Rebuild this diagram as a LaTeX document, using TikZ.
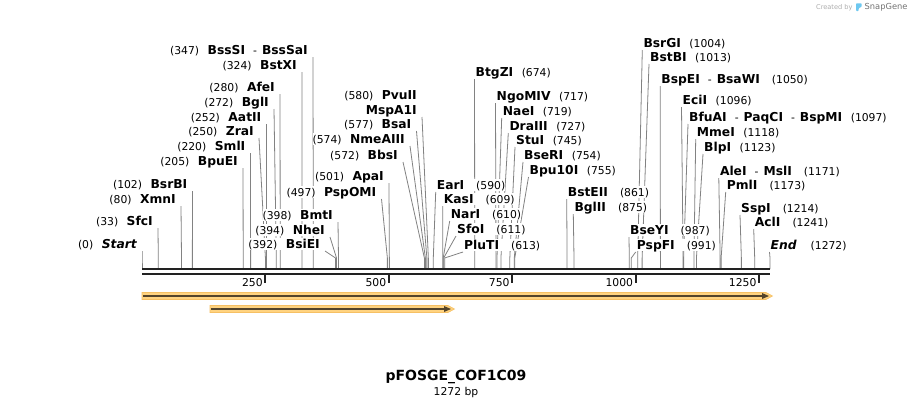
\documentclass[tikz,border=0pt]{standalone}
\usepackage{fontspec}
\setmainfont{DejaVu Sans}[ItalicFont={DejaVu Sans Oblique},BoldFont={DejaVu Sans Bold},BoldItalicFont={DejaVu Sans Bold Oblique}]
\usepackage{tikz}
\usetikzlibrary{calc,backgrounds}

\definecolor{featorange}{RGB}{255,211,128}
\definecolor{featedge}{RGB}{246,192,100}
\definecolor{featline}{RGB}{84,68,42}
\definecolor{siteclr}{RGB}{130,130,130}
\definecolor{barclr}{RGB}{34,34,34}
\definecolor{logoblue}{RGB}{110,200,240}

\newcommand{\bpx}[1]{(142+(#1)*0.493711)}
\newcommand{\sgap}{\hspace{8.5pt}}
\newcommand{\wgap}{\hspace{12pt}}
\newcommand{\nm}[1]{{\fontsize{12.3}{14}\selectfont\bfseries #1}}
\newcommand{\cutL}[5]{%
  \node[sitelbl, anchor=east] (#1) at (#2,#3) {#5};
  \coordinate (#1-cut) at ({\bpx{#4}},269);
  \begin{scope}[on background layer]
  \draw[siteln] ($(#1.east)+(5,7)$) -- ({\bpx{#4}},258) -- (#1-cut);
  \end{scope}}
\newcommand{\cutR}[5]{%
  \node[sitelbl, anchor=west] (#1) at (#2,#3) {#5};
  \coordinate (#1-cut) at ({\bpx{#4}},269);
  \begin{scope}[on background layer]
  \draw[siteln] ($(#1.west)+(-1,7)$) -- ({\bpx{#4}},258) -- (#1-cut);
  \end{scope}}

\begin{document}
\begin{tikzpicture}[x=1pt,y=-1pt,
  sitelbl/.style={font=\fontsize{10.8}{12}\selectfont, fill=white, inner sep=0pt, text height=10.6pt, text depth=2pt},
  siteln/.style={siteclr, line width=0.8pt},
  barln/.style={barclr, line width=2.5pt},
  tickln/.style={barclr, line width=2pt},
  feat/.style={fill=featorange, draw=featedge, line width=0.6pt},
  featln/.style={featline, line width=2.2pt}]
\begin{scope}[on background layer]
\fill[white] (0,0) rectangle (913,408);
\end{scope}
\useasboundingbox (0,0) rectangle (913,408);

\coordinate (s0) at (142,269);
\coordinate (s1) at (770,269);
\coordinate (t0) at (142,274);
\coordinate (t1) at (770,274);

% left stack
\cutL{bsssi}{308}{50}{347}{(347)\sgap\nm{BssSI}\hspace{8pt}-\hspace{5pt}\nm{BssSaI}}
\cutL{bstxi}{297}{65}{324}{(324)\sgap\nm{BstXI}}
\cutL{afei}{275}{87}{280}{(280)\sgap\nm{AfeI}}
\cutL{bgli}{269}{102}{272}{(272)\sgap\nm{BglI}}
\cutL{aatii}{261.5}{117}{252}{(252)\sgap\nm{AatII}}
\cutL{zrai}{254}{131}{250}{(250)\sgap\nm{ZraI}}
\cutL{smli}{245.5}{146}{220}{(220)\sgap\nm{SmlI}}
\cutL{bpuei}{238}{161}{205}{(205)\sgap\nm{BpuEI}}
\cutL{bsrbi}{187.5}{184}{102}{(102)\sgap\nm{BsrBI}}
\cutL{xmni}{176}{199}{80}{(80)\sgap\nm{XmnI}}
\cutL{sfci}{153}{221}{33}{(33)\sgap\nm{SfcI}}
\cutL{start}{137}{244}{0}{(0)\sgap\nm{\itshape Start}}

\cutL{bmti}{333}{215}{398}{(398)\sgap\nm{BmtI}}
\cutL{nhei}{325}{230}{394}{(394)\sgap\nm{NheI}}
\cutL{bsiei}{320}{244}{392}{(392)\sgap\nm{BsiEI}}
\cutL{apai}{384}{176}{501}{(501)\sgap\nm{ApaI}}
\cutL{pspomi}{376.5}{192}{497}{(497)\sgap\nm{PspOMI}}

\node[sitelbl, anchor=east] (pvuii) at (417,95) {(580)\sgap\nm{PvuII}};
\cutL{mspai}{417}{110}{580}{\nm{MspA1I}}
\cutL{bsai}{411.5}{124}{577}{(577)\sgap\nm{BsaI}}
\cutL{nmeaiii}{405}{139}{574}{(574)\sgap\nm{NmeAIII}}
\cutL{bbsi}{398}{155}{572}{(572)\sgap\nm{BbsI}}

% right stack
\cutR{eari}{436.7}{185}{590}{\nm{EarI}\wgap(590)}
\cutR{kasi}{443.7}{199}{609}{\nm{KasI}\wgap(609)}
\cutR{nari}{450.7}{214}{610}{\nm{NarI}\wgap(610)}
\cutR{sfoi}{457}{229}{611}{\nm{SfoI}\wgap(611)}
\cutR{pluti}{464}{245}{613}{\nm{PluTI}\wgap(613)}

\cutR{btgzi}{475.5}{72}{674}{\nm{BtgZI}\sgap(674)}
\cutR{ngomiv}{496.5}{96}{717}{\nm{NgoMIV}\sgap(717)}
\cutR{naei}{502.7}{111}{719}{\nm{NaeI}\sgap(719)}
\cutR{draiii}{509.3}{126}{727}{\nm{DraIII}\sgap(727)}
\cutR{stui}{516}{140}{745}{\nm{StuI}\sgap(745)}
\cutR{bseri}{524}{155}{754}{\nm{BseRI}\sgap(754)}
\cutR{bpuxi}{529.5}{170}{755}{\nm{Bpu10I}\sgap(755)}

\cutR{bsteii}{567.7}{192}{861}{\nm{BstEII}\wgap(861)}
\cutR{bglii}{574.3}{207}{875}{\nm{BglII}\wgap(875)}
\cutR{bseyi}{630}{230}{987}{\nm{BseYI}\wgap(987)}
\cutR{pspfi}{636.7}{245}{991}{\nm{PspFI}\wgap(991)}

\cutR{bsrgi}{643.3}{43}{1004}{\nm{BsrGI}\sgap(1004)}
\cutR{bstbi}{650}{57}{1013}{\nm{BstBI}\sgap(1013)}
\cutR{bspei}{661.2}{79}{1050}{\nm{BspEI}\hspace{8pt}-\hspace{5pt}\nm{BsaWI}\wgap(1050)}
\cutR{ecii}{682.5}{100}{1096}{\nm{EciI}\sgap(1096)}
\cutR{bfuai}{689}{117}{1097}{\nm{BfuAI}\hspace{8pt}-\hspace{5pt}\nm{PaqCI}\hspace{8pt}-\hspace{5pt}\nm{BspMI}\sgap(1097)}
\cutR{mmei}{696.7}{132}{1118}{\nm{MmeI}\sgap(1118)}
\cutR{blpi}{704}{147}{1123}{\nm{BlpI}\sgap(1123)}
\cutR{alei}{719.8}{171}{1171}{\nm{AleI}\hspace{8pt}-\hspace{5pt}\nm{MslI}\wgap(1171)}
\cutR{pmli}{726.7}{185}{1173}{\nm{PmlI}\wgap(1173)}
\cutR{sspi}{741}{208}{1214}{\nm{SspI}\wgap(1214)}
\cutR{acli}{754.7}{222}{1241}{\nm{AclI}\wgap(1241)}
\cutR{end}{770.5}{245}{1272}{\nm{\itshape End}\hspace{14pt}(1272)}

% sequence bar
\draw[barln] (s0) -- (s1);
\draw[barln] (t0) -- (t1);
\foreach \t in {250,500,...,1250} {
 \draw[tickln] ({\bpx{\t}},273) -- ++(0,10);
 \node[sitelbl, anchor=east] (tk\t) at ({\bpx{\t}-2.5},282) {\t};
}

% features
\draw[feat] (142,292.5) -- (766,292.5) -- (772.5,296) -- (766,299.5) -- (142,299.5) -- cycle;
\draw[featln] (143,296) -- (763,296);
\fill[featline] (762,293) -- (769,296) -- (762,299) -- cycle;
\draw[feat] (210,305.5) -- (448,305.5) -- (454.5,309) -- (448,312.5) -- (210,312.5) -- cycle;
\draw[featln] (211,309) -- (445,309);
\fill[featline] (444,306) -- (451,309) -- (444,312) -- cycle;

\node[font=\fontsize{14}{16}\selectfont\bfseries, inner sep=0pt] (title) at (456,377) {pFOSGE\_COF1C09};
\node[font=\fontsize{10.8}{12}\selectfont, inner sep=0pt] (len) at (456,393) {1272 bp};

\node[font=\fontsize{6.6}{8}\selectfont, text=black!32, anchor=west, inner sep=0pt] (made) at (816,7.3) {Created by};
\fill[logoblue, rounded corners=0.8pt] (856,3.3) -- (861.7,3.3) -- (861.7,6.8) -- (858.6,8.2) -- (858.6,11) -- (856,11) -- cycle;
\node[font=\fontsize{8.3}{10}\selectfont, text=black!55, anchor=west, inner sep=0pt] (sg) at (864.5,7.3) {SnapGene};
\end{tikzpicture}
\end{document}
